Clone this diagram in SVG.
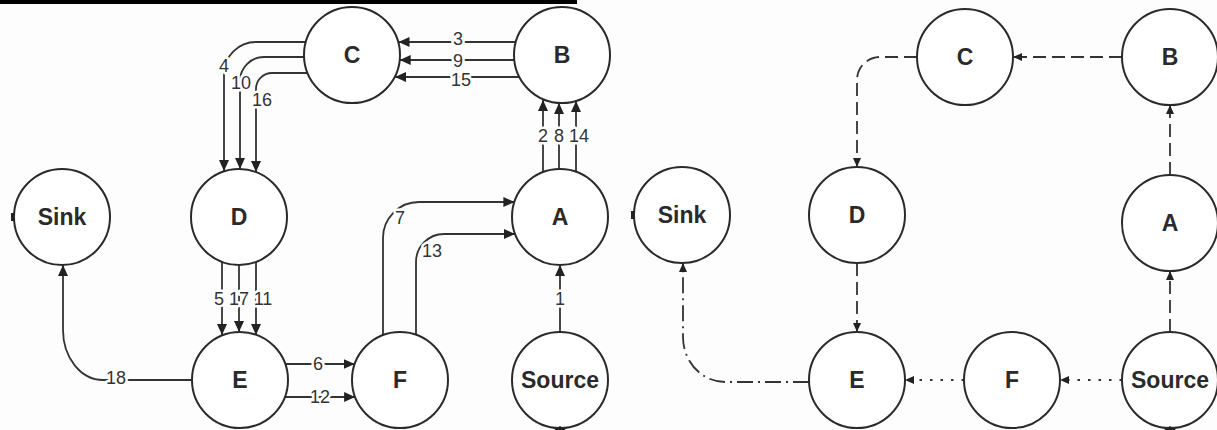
<svg xmlns="http://www.w3.org/2000/svg" width="1217" height="430" viewBox="0 0 1217 430">
  <style>
    .node circle { fill: #fff; stroke: #2a2a2a; stroke-width: 2; }
    .node text { font-family: "Liberation Sans", Arial, sans-serif; font-weight: bold; font-size: 23px; fill: #2a2a2a; text-anchor: middle; }
    .edge { fill: none; stroke: #333; stroke-width: 1.8; }
    .big { marker-end: url(#arrow); }
    .small { marker-end: url(#arrowS); }
    .dash { stroke-dasharray: 13 6; }
    .dot { stroke-dasharray: 2.5 8; }
    .dashdot { stroke-dasharray: 16 5 2 5; }
    .num { font-family: "Liberation Sans", Arial, sans-serif; font-size: 18px; fill: #333; text-anchor: middle;
           stroke: #fff; stroke-width: 5; paint-order: stroke; stroke-linejoin: round; }
    .tick { fill: #222; }
  </style>
  <defs>
    <marker id="arrow" markerUnits="userSpaceOnUse" markerWidth="12" markerHeight="10" refX="11" refY="5" orient="auto">
      <path d="M0,0 L11,5 L0,10 z" fill="#222"/>
    </marker>
    <marker id="arrowS" markerUnits="userSpaceOnUse" markerWidth="10" markerHeight="8" refX="9" refY="4" orient="auto">
      <path d="M0,0 L9,4 L0,8 z" fill="#222"/>
    </marker>
  </defs>

  <rect width="1217" height="430" fill="#fdfdfd"/>
  <!-- heading rule -->
  <rect x="0" y="0" width="577" height="4" fill="#000"/>

  <!-- connectors -->
  <g id="connectors">
    <!-- left: numbered augmenting steps -->
    <path class="edge big" d="M515.8,42 H398.5"/>
    <path class="edge big" d="M514.3,60 H399.7"/>
    <path class="edge big" d="M519.5,77 H395"/>

    <path class="edge big" d="M306,42 H256 A32,32 0 0 0 224,74 V171"/>
    <path class="edge big" d="M305,57 H264 A24,24 0 0 0 240,81 V169"/>
    <path class="edge big" d="M308,73 H272 A16,16 0 0 0 256,89 V172"/>

    <path class="edge big" d="M543,172 V100"/>
    <path class="edge big" d="M559,169 V103"/>
    <path class="edge big" d="M576,172 V101"/>

    <path class="edge big" d="M560,332 V265"/>

    <path class="edge big" d="M222,262 V335"/>
    <path class="edge big" d="M239,265 V332"/>
    <path class="edge big" d="M256,262 V335"/>

    <path class="edge big" d="M285.3,364 H354.7"/>
    <path class="edge big" d="M284.9,397 H355.1"/>

    <path class="edge big" d="M383,335 V238 A36,36 0 0 1 419,202 H514.4"/>
    <path class="edge big" d="M416,335 V262 A28,28 0 0 1 444,234 H515"/>

    <path class="edge big" d="M192,380 H103 A40,50 0 0 1 63,330 V265"/>

    <!-- left labels -->
    <text class="num" x="458" y="45">3</text>
    <text class="num" x="458" y="67">9</text>
    <text class="num" x="461" y="86">15</text>
    <text class="num" x="224" y="72">4</text>
    <text class="num" x="241" y="89">10</text>
    <text class="num" x="262" y="106">16</text>
    <text class="num" x="543" y="142">2</text>
    <text class="num" x="559" y="142">8</text>
    <text class="num" x="579" y="142">14</text>
    <text class="num" x="560" y="305">1</text>
    <text class="num" x="219" y="305">5</text>
    <text class="num" x="239" y="305">17</text>
    <text class="num" x="263" y="305">11</text>
    <text class="num" x="318" y="370">6</text>
    <text class="num" x="320" y="403">12</text>
    <text class="num" x="400" y="224">7</text>
    <text class="num" x="432" y="257">13</text>
    <text class="num" x="116" y="384">18</text>

    <!-- right: resulting path -->
    <path class="edge small dash" d="M1122,57 H1013"/>
    <path class="edge small dash" d="M917,57 H880 A23,23 0 0 0 857,80 V167"/>
    <path class="edge small dash" d="M857,263 V332"/>
    <path class="edge small dash" d="M1170,175 V105"/>
    <path class="edge small dash" d="M1170,332 V271"/>
    <path class="edge small dot" d="M1122,380 H1060"/>
    <path class="edge small dot" d="M964,380 H905"/>
    <path class="edge small dashdot" d="M809,382 H725 A42,45 0 0 1 683,337 V263"/>
  </g>

  <!-- left panel nodes -->
  <g id="L-C" class="node"><circle cx="352" cy="55" r="48"/><text x="352" y="63">C</text></g>
  <g id="L-B" class="node"><circle cx="562" cy="55" r="48"/><text x="562" y="63">B</text></g>
  <g id="L-Sink" class="node"><circle cx="62" cy="217" r="48"/><text x="62" y="225">Sink</text></g>
  <g id="L-D" class="node"><circle cx="239" cy="217" r="48"/><text x="239" y="225">D</text></g>
  <g id="L-A" class="node"><circle cx="560" cy="217" r="48"/><text x="560" y="225">A</text></g>
  <g id="L-E" class="node"><circle cx="240" cy="380" r="48"/><text x="240" y="388">E</text></g>
  <g id="L-F" class="node"><circle cx="400" cy="380" r="48"/><text x="400" y="388">F</text></g>
  <g id="L-Source" class="node"><circle cx="560" cy="380" r="48"/><text x="560" y="388">Source</text></g>

  <!-- right panel nodes -->
  <g id="R-C" class="node"><circle cx="965" cy="57" r="48"/><text x="965" y="65">C</text></g>
  <g id="R-B" class="node"><circle cx="1170" cy="57" r="48"/><text x="1170" y="65">B</text></g>
  <g id="R-Sink" class="node"><circle cx="682" cy="215" r="48"/><text x="682" y="223">Sink</text></g>
  <g id="R-D" class="node"><circle cx="857" cy="215" r="48"/><text x="857" y="223">D</text></g>
  <g id="R-A" class="node"><circle cx="1170" cy="223" r="48"/><text x="1170" y="231">A</text></g>
  <g id="R-E" class="node"><circle cx="857" cy="380" r="48"/><text x="857" y="388">E</text></g>
  <g id="R-F" class="node"><circle cx="1012" cy="380" r="48"/><text x="1012" y="388">F</text></g>
  <g id="R-Source" class="node"><circle cx="1170" cy="380" r="48"/><text x="1170" y="388">Source</text></g>

  <!-- stub marks at sink inlets and source outlets -->
  <rect class="tick" x="11" y="213" width="3" height="8"/>
  <rect class="tick" x="631" y="211" width="3" height="8"/>
  <path class="tick" d="M554,430 L560,426 L566,430 z"/>
  <path class="tick" d="M1164,430 L1170,426 L1176,430 z"/>
</svg>
